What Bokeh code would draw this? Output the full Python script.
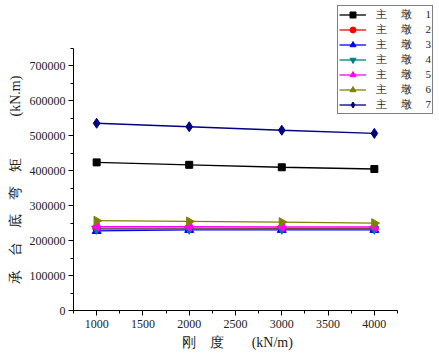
from bokeh.plotting import figure
from bokeh.models import Range1d, SingleIntervalTicker, BasicTickFormatter, Legend, LegendItem
from bokeh.embed import file_html
from bokeh.resources import INLINE
import math

x_vals = [1000, 2000, 3000, 4000]
s1 = [424000, 417000, 410000, 405000]
s2 = [236000, 236000, 235500, 235000]
s3 = [228000, 231000, 231000, 231000]
s4 = [233000, 233000, 233000, 233000]
s5 = [240000, 240000, 239500, 239000]
s6 = [257000, 255000, 253000, 250000]
s7 = [536000, 526000, 516000, 507000]
labels = ["主　 墩　 1", "主　 墩　 2", "主　 墩　 3", "主　 墩　 4",
          "主　 墩　 5", "主　 墩　 6", "主　 墩　 7"]

series = [s1, s2, s3, s4, s5, s6, s7]
colors = ["#000000", "#ff0000", "#0000ff", "#008080", "#ff00ff", "#808000", "#000080"]
markers = ["square", "circle", "triangle", "inverted_triangle", "triangle", "triangle", "diamond"]
angles = [0, 0, 0, 0, math.pi / 2, -math.pi / 2, 0]
sizes = [7, 8, 9, 9, 9, 9, 10]

FONT = "Liberation Serif"

X0, X1 = 750, 4250
Y0, Y1 = 0, 750000
fw, fh = 366, 310
x_end = X0 + (X1 - X0) * fw / 324.0
y_end = Y1 * fh / 262.0

p = figure(width=439, height=353, output_backend="svg", toolbar_location=None,
           x_range=Range1d(X0, x_end), y_range=Range1d(Y0, y_end),
           min_border_left=73, min_border_right=0, min_border_top=0, min_border_bottom=43)
p.outline_line_color = None
p.xgrid.visible = False
p.ygrid.visible = False
p.background_fill_color = "white"
p.border_fill_color = "white"

items = []
for ys, c, m, a, s, lab in zip(series, colors, markers, angles, sizes, labels):
    l = p.line(x_vals, ys, line_color=c, line_width=1.3)
    sc = p.scatter(x_vals, ys, marker=m, size=s, angle=a, angle_units="rad",
                   fill_color=c, line_color=c)
    items.append(LegendItem(label=lab, renderers=[l, sc]))

p.xaxis.ticker = SingleIntervalTicker(interval=500, num_minor_ticks=2)
p.yaxis.ticker = SingleIntervalTicker(interval=100000, num_minor_ticks=2)
p.yaxis.formatter = BasicTickFormatter(use_scientific=False)
p.xaxis.bounds = (X0, X1)
p.yaxis.bounds = (Y0, Y1)

for ax in (p.xaxis[0], p.yaxis[0]):
    ax.axis_line_color = "black"
    ax.axis_line_width = 1
    ax.major_tick_line_color = "black"
    ax.minor_tick_line_color = "black"
    ax.major_tick_out = 5
    ax.major_tick_in = 0
    ax.minor_tick_out = 3
    ax.minor_tick_in = 0
    ax.major_label_text_font = FONT
    ax.major_label_text_font_size = "12px"
    ax.major_label_text_color = "#222222"
    ax.axis_label_text_font = FONT
    ax.axis_label_text_font_size = "14px"
    ax.axis_label_text_font_style = "normal"
    ax.axis_label_text_color = "#222222"

# trailing ideographic spaces shift the centred labels towards the plot centre
p.xaxis.axis_label = "刚　度　　(kN/m)　　\u2002\u2005"
p.yaxis.axis_label = "承　台　底　弯　矩　　　(kN.m)　　　\u2002"
p.xaxis.major_label_standoff = 4
p.xaxis.axis_label_standoff = 4
p.yaxis.major_label_standoff = 3
p.yaxis.axis_label_standoff = 4

legend = Legend(items=items, location=(264, 196), orientation="vertical")
legend.border_line_color = "black"
legend.border_line_width = 1
legend.background_fill_color = "white"
legend.background_fill_alpha = 1
legend.label_text_font = FONT
legend.label_text_font_size = "11px"
legend.label_text_line_height = 1.0
legend.label_text_color = "#222222"
legend.glyph_width = 27
legend.glyph_height = 15
legend.label_height = 15
legend.spacing = 0
legend.padding = 1
legend.margin = 0
legend.label_standoff = 10
p.add_layout(legend, "center")

open("out.html", "w").write(file_html(p, INLINE))
